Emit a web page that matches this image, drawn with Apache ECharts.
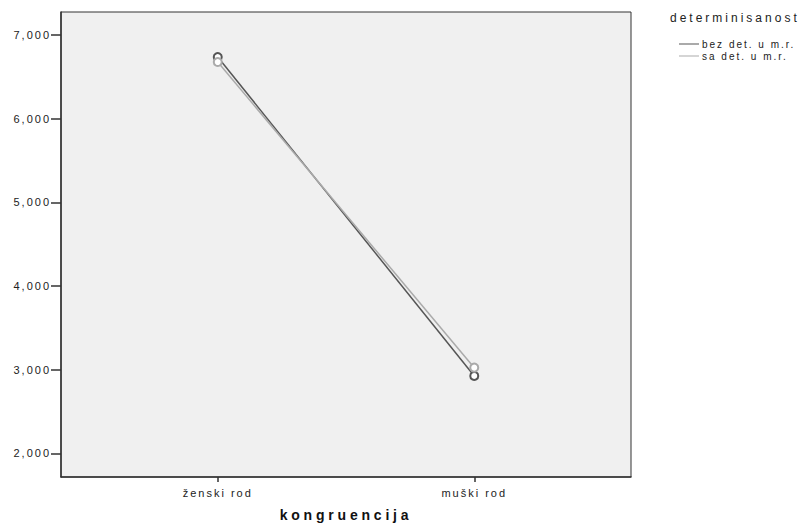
<!DOCTYPE html>
<html><head><meta charset="utf-8">
<script src="https://cdn.jsdelivr.net/npm/echarts@6/dist/echarts.min.js"></script>
<style>html,body{margin:0;padding:0;background:#fff}#c{width:804px;height:524px}</style>
</head><body><div id="c"></div>
<script>
const categories = ['ženski rod', 'muški rod'];
const seriesNames = ['bez det. u m.r.', 'sa det. u m.r.'];
const bezDet = [6737, 2925];
const saDet = [6677, 3024];
const yTicks = [2000, 3000, 4000, 5000, 6000, 7000];
const legendTitle = 'determinisanost';
const xName = 'kongruencija';

const font = 'Liberation Sans, Arial, sans-serif';
const chart = echarts.init(document.getElementById('c'), null, {renderer: 'svg'});
const toPts = arr => arr.map((v, i) => [i, v]);
chart.setOption({
  animation: false,
  backgroundColor: '#fff',
  title: {text: legendTitle, left: 670, top: 12, padding: 0, textStyle: {fontFamily: font, fontSize: 12, fontWeight: 'normal', color: '#222'}},
  legend: {
    orient: 'vertical', left: 679, top: 39, padding: 0, itemWidth: 20, itemHeight: 8, itemGap: 2,
    icon: 'path://M0,4L20,4L20,5L0,5Z',
    textStyle: {fontFamily: font, fontSize: 10, color: '#222', padding: [0,0,0,-2]},
    data: seriesNames
  },
  grid: {left: 61, top: 12, right: 173, bottom: 47, outerBoundsMode: 'none', show: true, backgroundColor: '#f0f0f0', borderColor: '#333', borderWidth: 1},
  xAxis: {
    type: 'value', min: -0.6111, max: 1.6111,
    name: xName, nameLocation: 'middle', nameGap: 31,
    nameTextStyle: {fontFamily: font, fontSize: 14, fontWeight: 'bold', color: '#111'},
    axisLine: {show: true, onZero: false, lineStyle: {color: '#333', width: 1.5}},
    axisTick: {show: true, length: 5, customValues: [0, 1], lineStyle: {color: '#333', width: 1.5}},
    axisLabel: {customValues: [0, 1], formatter: v => categories[Math.round(v)] || '', fontFamily: font, fontSize: 11, color: '#222', margin: 10},
    splitLine: {show: false}
  },
  yAxis: {
    type: 'value', min: 1717, max: 7275,
    axisLine: {show: true, onZero: false, lineStyle: {color: '#333', width: 1.5}},
    axisTick: {show: true, length: 10, customValues: yTicks, lineStyle: {color: '#333', width: 1.5}},
    axisLabel: {customValues: yTicks, formatter: v => v.toLocaleString('en-US'), fontFamily: font, fontSize: 11, color: '#222', margin: 10},
    splitLine: {show: false}
  },
  series: [
    {name: seriesNames[0], type: 'line', data: toPts(bezDet), symbol: 'emptyCircle', symbolSize: 8,
     lineStyle: {color: '#555', width: 1.5}, itemStyle: {color: '#555', borderWidth: 1.5}, color: '#555'},
    {name: seriesNames[1], type: 'line', data: toPts(saDet), symbol: 'emptyCircle', symbolSize: 8,
     lineStyle: {color: '#aaa', width: 1.5}, itemStyle: {color: '#aaa', borderWidth: 1.5}, color: '#aaa'}
  ]
});
// widen letter spacing to match the reference's spaced-out lettering
document.querySelectorAll('#c svg text').forEach(t => {
  const s = t.textContent;
  let ls = '2px';
  if (s === xName) ls = '3.8px';
  else if (s === legendTitle) ls = '3px';
  t.style.letterSpacing = ls;
});
</script></body></html>
